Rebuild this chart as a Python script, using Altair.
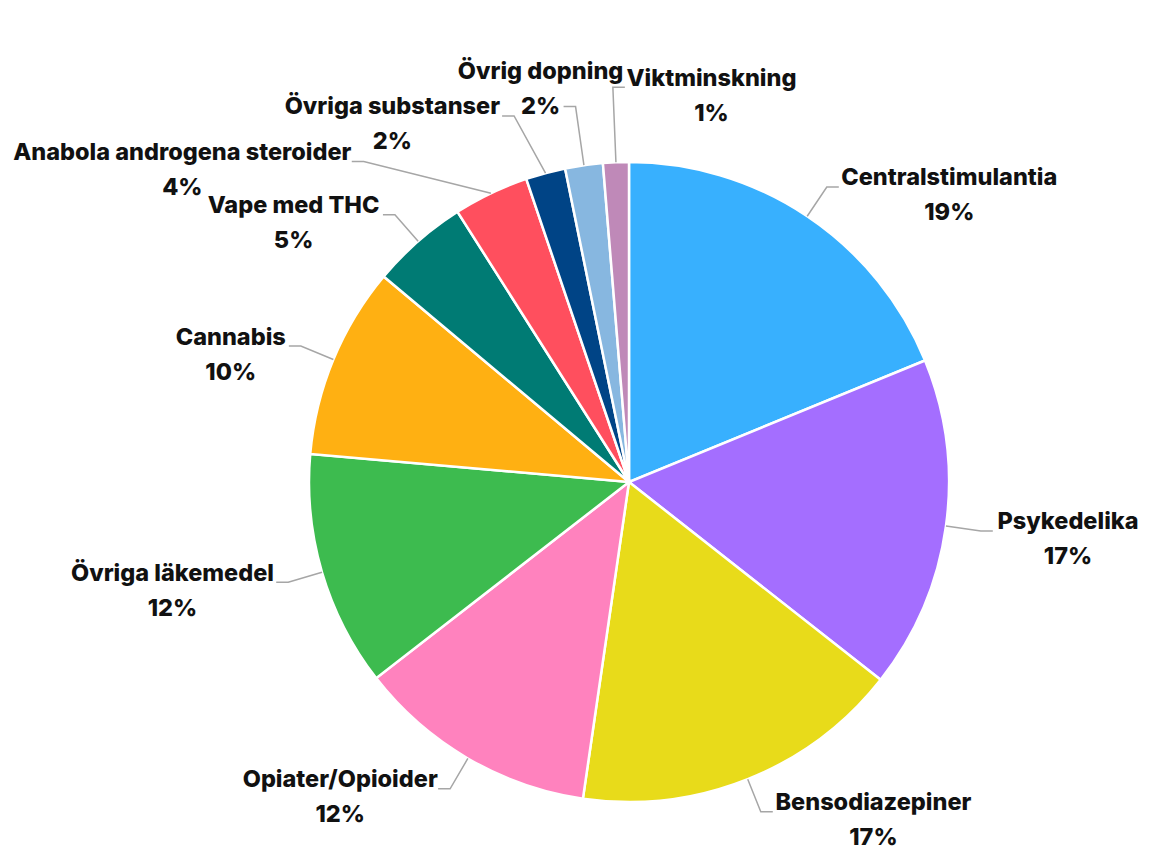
import math
import altair as alt
import pandas as pd

# ---------------- data ----------------
categories = ["Centralstimulantia", "Psykedelika", "Bensodiazepiner", "Opiater/Opioider",
              "Övriga läkemedel", "Cannabis", "Vape med THC", "Anabola androgena steroider",
              "Övriga substanser", "Övrig dopning", "Viktminskning"]
values = [18.8, 16.8, 16.7, 12.2, 11.9, 9.7, 4.9, 3.8, 2.0, 1.9, 1.3]
colors = ["#38B0FE", "#A46EFF", "#E8DB1A", "#FF82BE", "#3DBB4F", "#FFB012",
          "#007B74", "#FF4F5E", "#004486", "#87B7E0", "#BF89B8"]

# ---------------- layout settings ----------------
W, H = 1133, 843
CX, CY, R = 621, 474, 320
FONT = "Inter"
FS = 23.5
LH = 17.5          # half distance between the two label lines
ELBOW = 12
GAP = 5
R0 = 1.11 * R


def text_width(s):
    w = 0.0
    for ch in s:
        if ch in "ijlI.,:;'!| ":
            w += 0.27
        elif ch in "frt/":
            w += 0.38
        elif ch in "mwMW%":
            w += 0.88
        elif ch.isupper():
            w += 0.68
        elif ch.isdigit():
            w += 0.62
        else:
            w += 0.58
    return w * FS * 1.02


def seg_rect(p, q, r, pad=2):
    x0, x1, y0, y1 = r[0] - pad, r[1] + pad, r[2] - pad, r[3] + pad
    dx, dy = q[0] - p[0], q[1] - p[1]
    t0, t1 = 0.0, 1.0
    for pp, qq in ((-dx, p[0] - x0), (dx, x1 - p[0]), (-dy, p[1] - y0), (dy, y1 - p[1])):
        if pp == 0:
            if qq < 0:
                return False
        else:
            t = qq / pp
            if pp < 0:
                if t > t1:
                    return False
                t0 = max(t0, t)
            else:
                if t < t0:
                    return False
                t1 = min(t1, t)
    return True


def seg_seg(a, b, c, d):
    def o(p, q, r):
        return (q[0] - p[0]) * (r[1] - p[1]) - (q[1] - p[1]) * (r[0] - p[0])
    return o(a, b, c) * o(a, b, d) < 0 and o(c, d, a) * o(c, d, b) < 0


def rect_overlap(a, b, pad):
    return not (a[1] + pad <= b[0] or b[1] + pad <= a[0] or a[3] + pad <= b[2] or b[3] + pad <= a[2])


def rect_hits_pie(b, margin):
    nx = min(max(CX, b[0]), b[1])
    ny = min(max(CY, b[2]), b[3])
    return math.hypot(nx - CX, ny - CY) < R + margin


total = sum(values)
mids = []
acc = 0.0
for v in values:
    mids.append((acc + v / 2) / total * 2 * math.pi)
    acc += v
pcts_txt = [f"{round(v)}%" for v in values]

BASE_GRID = [(dr, dh, m) for dr in range(0, 305, 8) for dh in range(0, 330, 8) for m in (0, 1)]


def candidates(i, placed_rects, placed_segs, K=1, mindist=30):
    th = mids[i]
    s, c = math.sin(th), math.cos(th)
    side = 1 if s > -0.05 else -1
    wn, wp = text_width(categories[i]), text_width(pcts_txt[i])
    pen_b = 8 + (wn - wp) / 4
    grid = sorted(BASE_GRID, key=lambda g: g[0] + g[1] + pen_b * g[2])
    p0 = (CX + R * s, CY - R * c)
    found = []
    for dr, dh, m in grid:
        r = R0 + dr
        p1 = (CX + r * s + side * dh, CY - r * c)
        if (p1[0] - p0[0]) * s - (p1[1] - p0[1]) * c < 0:
            continue
        p2 = (p1[0] + side * ELBOW, p1[1])
        if m == 0:
            by = p1[1] + 9
            bx = p2[0] + side * (GAP + max(wn, wp) / 2)
        else:
            by = p1[1] - LH
            bx = p2[0] + side * (GAP + wp / 2)
        rects = [(bx - wn / 2, bx + wn / 2, by - LH - 11, by - LH + 12),
                 (bx - wp / 2, bx + wp / 2, by + LH - 11, by + LH + 11)]
        bad = False
        for rc in rects:
            if rc[0] < 1 or rc[1] > W - 1 or rc[2] < 1 or rc[3] > H - 1 or rect_hits_pie(rc, 6):
                bad = True
                break
        if bad:
            continue
        if any(rect_overlap(a, b, 6) for a in rects for b in placed_rects):
            continue
        segs = [(p0, p1), (p1, p2)]
        if any(seg_rect(sp, sq, b) for sp, sq in segs for b in placed_rects + rects):
            continue
        if any(seg_rect(sp, sq, b) for sp, sq in placed_segs for b in rects):
            continue
        if any(seg_seg(a, b, cc, d) for a, b in segs for cc, d in placed_segs):
            continue
        if any(f[2] == m and abs(f[1]["bx"] - bx) + abs(f[1]["by"] - by) < mindist for f in found):
            continue
        found.append((dr + dh + pen_b * m, dict(p0=p0, p1=p1, p2=p2, bx=bx, by=by, rects=rects, segs=segs), m))
        if len(found) >= K:
            break
    if not found:
        r = R0
        p1 = (CX + r * s, CY - r * c)
        p2 = (p1[0] + side * ELBOW, p1[1])
        by = p1[1] + 9
        bx = p2[0] + side * (GAP + max(wn, wp) / 2)
        rects = [(bx - wn / 2, bx + wn / 2, by - LH - 11, by - LH + 12),
                 (bx - wp / 2, bx + wp / 2, by + LH - 11, by + LH + 11)]
        found.append((1e5, dict(p0=p0, p1=p1, p2=p2, bx=bx, by=by, rects=rects,
                                segs=[(p0, p1), (p1, p2)]), 0))
    return found


big = sorted([i for i in range(len(values)) if values[i] >= 4], key=lambda k: -values[k])
small = sorted([i for i in range(len(values)) if values[i] < 4], key=lambda k: values[k])

rects0, segs0, layout, cost0 = [], [], {}, 0.0
for i in big:
    cst, L, _ = candidates(i, rects0, segs0, K=1)[0]
    cost0 += cst
    layout[i] = L
    rects0 += L["rects"]
    segs0 += L["segs"]

best = [float("inf"), None]


def dfs(k, rects, segs, cost, lay):
    if cost >= best[0]:
        return
    if k == len(small):
        best[0], best[1] = cost, dict(lay)
        return
    i = small[k]
    for cst, L, _ in candidates(i, rects, segs, K=6):
        lay[i] = L
        dfs(k + 1, rects + L["rects"], segs + L["segs"], cost + cst, lay)
        del lay[i]


dfs(0, rects0, segs0, 0.0, {})
layout.update(best[1])

# ---------------- tables ----------------
slices = pd.DataFrame({"category": categories, "value": values, "idx": list(range(len(values)))})

lead_rows = []
for i, L in layout.items():
    for k, key in enumerate(["p0", "p1", "p2"]):
        lead_rows.append({"category": categories[i], "pt": k, "x": L[key][0], "y": L[key][1]})
leaders = pd.DataFrame(lead_rows)

labels = pd.DataFrame([{"category": categories[i], "name": categories[i], "pct": pcts_txt[i],
                        "x": L["bx"], "y": L["by"]} for i, L in layout.items()])

xs = alt.Scale(domain=[0, W], nice=False, zero=False)
ys = alt.Scale(domain=[0, H], nice=False, zero=False, reverse=True)

arcs = alt.Chart(slices).mark_arc(outerRadius=R, stroke="white", strokeWidth=2.5).encode(
    theta=alt.Theta("value:Q", stack=True),
    order=alt.Order("idx:Q"),
    color=alt.Color("category:N", scale=alt.Scale(domain=categories, range=colors), legend=None),
    x=alt.value(CX),
    y=alt.value(CY),
)

lines = alt.Chart(leaders).mark_line(color="#A6A6A6", strokeWidth=1.5).encode(
    x=alt.X("x:Q", scale=xs, axis=None),
    y=alt.Y("y:Q", scale=ys, axis=None),
    detail="category:N",
    order="pt:Q",
)

names = alt.Chart(labels).mark_text(font=FONT, fontSize=FS, fontWeight=800, color="#111111",
                                    align="center", baseline="middle", dy=-LH).encode(
    x=alt.X("x:Q", scale=xs, axis=None),
    y=alt.Y("y:Q", scale=ys, axis=None),
    text="name:N",
)

pcts = alt.Chart(labels).mark_text(font=FONT, fontSize=FS, fontWeight=800, color="#111111",
                                   align="center", baseline="middle", dy=LH).encode(
    x=alt.X("x:Q", scale=xs, axis=None),
    y=alt.Y("y:Q", scale=ys, axis=None),
    text="pct:N",
)

chart = alt.layer(arcs, lines, names, pcts).properties(
    width=W, height=H, autosize=alt.AutoSizeParams(type="none"), padding=0,
    background="white",
).configure_view(strokeWidth=0)

chart.save("out.html", embed_options={"renderer": "svg", "actions": False})
